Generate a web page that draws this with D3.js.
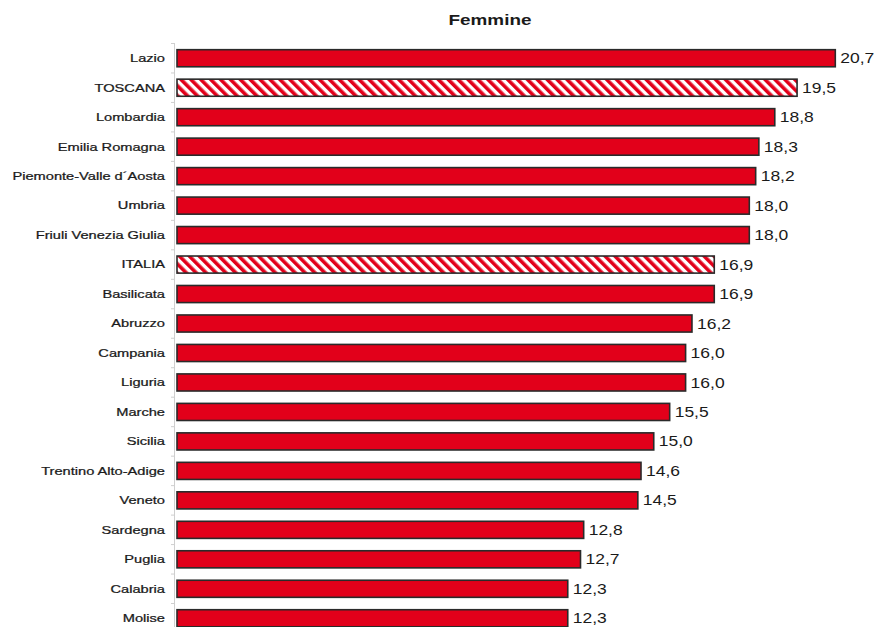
<!DOCTYPE html>
<html><head><meta charset="utf-8">
<script src="https://cdn.jsdelivr.net/npm/d3@7"></script>
<style>body{margin:0;background:#fff}svg{display:block}</style>
</head><body>
<svg id="c" width="879" height="627"></svg>
<script>
const regions = ["Lazio","TOSCANA","Lombardia","Emilia Romagna","Piemonte-Valle d\u00b4Aosta","Umbria","Friuli Venezia Giulia","ITALIA","Basilicata","Abruzzo","Campania","Liguria","Marche","Sicilia","Trentino Alto-Adige","Veneto","Sardegna","Puglia","Calabria","Molise"];
const values = [20.7,19.5,18.8,18.3,18.2,18.0,18.0,16.9,16.9,16.2,16.0,16.0,15.5,15.0,14.6,14.5,12.8,12.7,12.3,12.3];
const hatched = ["TOSCANA","ITALIA"];
const title = "Femmine";

const svg = d3.select("#c");
const FONT = "Liberation Sans, Arial, sans-serif";
const x0 = 176, pxPerUnit = 31.85;
const x = d3.scaleLinear().domain([0, 21]).range([x0, x0 + 21*pxPerUnit]);
const y = d3.scaleBand().domain(regions).range([43.5, 633]).paddingInner(0.42).paddingOuter(0.21);

const defs = svg.append("defs");
const pat = defs.append("pattern").attr("id","hatch").attr("patternUnits","userSpaceOnUse")
  .attr("width",7).attr("height",7).attr("patternTransform","rotate(-45)");
pat.append("rect").attr("width",7).attr("height",7).attr("fill","#fff");
pat.append("rect").attr("width",3.6).attr("height",7).attr("fill","#e2001a");

svg.append("text").attr("transform","translate(490,25) scale(1.35,1)").attr("text-anchor","middle")
  .attr("font-family",FONT).attr("font-size",14).attr("font-weight","bold")
  .attr("fill","#1a1a1a").text(title);

// axis
const axisG = svg.append("g");
axisG.append("line").attr("x1",x0-1.5).attr("x2",x0-1.5).attr("y1",43).attr("y2",627).attr("stroke","#cfcfcf").attr("stroke-width",1);
const bounds = regions.map(r => y(r) - y.step()*y.paddingInner()/2);
axisG.selectAll("line.t").data(bounds).join("line").attr("class","t")
  .attr("x1",x0-5).attr("x2",x0-1.5).attr("y1",d=>d).attr("y2",d=>d).attr("stroke","#cfcfcf");

svg.selectAll("rect.bar").data(regions).join("rect").attr("class","bar")
  .attr("x", x(0)+1).attr("y", d=>y(d)).attr("height", y.bandwidth())
  .attr("width", (d,i)=> x(values[i]) - x(0) - 1)
  .attr("fill", d => hatched.includes(d) ? "url(#hatch)" : "#e2001a")
  .attr("stroke","#2a2a2a").attr("stroke-width",1.6);

svg.selectAll("text.lab").data(regions).join("text").attr("class","lab")
  .attr("transform",d=>`translate(165,${y(d)+y.bandwidth()/2}) scale(1.33,1)`)
  .attr("dy","0.35em").attr("text-anchor","end")
  .attr("font-family",FONT).attr("font-size",11).attr("fill","#1a1a1a")
  .attr("stroke","#1a1a1a").attr("stroke-width",0.25)
  .text(d=>d);

const fmt = v => d3.format(".1f")(v).replace(".", ",");
svg.selectAll("text.val").data(regions).join("text").attr("class","val")
  .attr("transform",(d,i)=>`translate(${x(values[i])+5},${y(d)+y.bandwidth()/2}) scale(1.25,1)`)
  .attr("dy","0.36em")
  .attr("font-family",FONT).attr("font-size",14).attr("fill","#1a1a1a")
  .text((d,i)=>fmt(values[i]));
</script>
</body></html>
